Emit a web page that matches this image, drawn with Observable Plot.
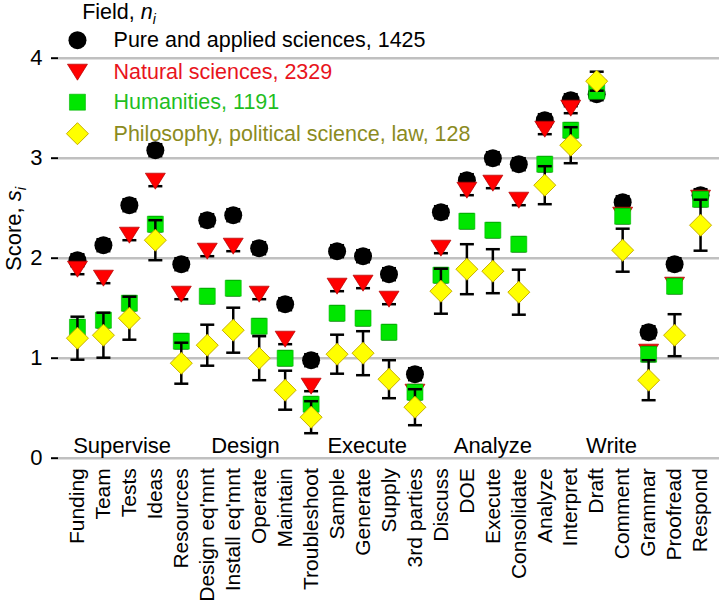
<!DOCTYPE html>
<html><head><meta charset="utf-8">
<script src="https://cdn.jsdelivr.net/npm/d3@7"></script>
<script src="https://cdn.jsdelivr.net/npm/@observablehq/plot@0.6"></script>
<style>
body{margin:0;background:#fff;}
#chart svg{display:block;background:#fff;}
</style>
</head><body><div id="chart"></div>
<script>
const categories = ["Funding","Team","Tests","Ideas","Resources","Design eq'mnt","Install eq'mnt","Operate","Maintain","Troubleshoot","Sample","Generate","Supply","3rd parties","Discuss","DOE","Execute","Consolidate","Analyze","Interpret","Draft","Comment","Grammar","Proofread","Respond"];
const groupLabels = ["Supervise","Design","Execute","Analyze","Write"];
const groupCenters = [1.72, 6.47, 11.16, 16.0, 20.57];
const pure       = [1.98,2.13,2.53,3.08,1.94,2.38,2.43,2.10,1.54,0.98,2.07,2.02,1.84,0.84,2.46,2.78,3.00,2.94,3.38,3.58,3.64,2.56,1.26,1.94,2.63];
const natural    = [1.89,1.80,2.23,2.77,1.64,2.07,2.12,1.64,1.19,0.72,1.72,1.75,1.59,0.66,2.10,2.68,2.75,2.58,3.29,3.50,3.70,2.43,1.06,1.73,2.60];
const humanities = [1.31,1.38,1.55,2.34,1.17,1.62,1.70,1.32,1.00,0.54,1.45,1.40,1.26,0.66,1.83,2.37,2.28,2.14,2.94,3.28,3.67,2.42,1.04,1.72,2.59];
const philosophy = [1.20,1.23,1.40,2.18,0.95,1.13,1.28,1.00,0.68,0.41,1.04,1.05,0.79,0.51,1.67,1.89,1.87,1.66,2.73,3.13,3.77,2.08,0.78,1.23,2.33];
const philosophyErr = [0.215,0.225,0.215,0.20,0.205,0.205,0.225,0.22,0.195,0.16,0.195,0.22,0.19,0.18,0.225,0.25,0.22,0.225,0.19,0.18,0.095,0.215,0.20,0.21,0.255];
const pureErr = 0.06, naturalErr = 0.05, humanitiesErr = 0.07;
const fieldNames = ["Pure and applied sciences, 1425","Natural sciences, 2329","Humanities, 1191","Philosophy, political science, law, 128"];
const yTicks = [0,1,2,3,4];

const FONT = "'Liberation Sans', Arial, Helvetica, sans-serif";
const k = size => Math.sqrt(size / Math.PI);
const symCircle = {draw(c, s){const r=k(s); c.moveTo(r,0); c.arc(0,0,r,0,2*Math.PI); c.closePath();}};
const symSquare = {draw(c, s){const r=k(s); c.rect(-r,-r,2*r,2*r);}};
const symTriDown = {draw(c, s){const r=k(s), w=r*1.25; c.moveTo(-w,-r); c.lineTo(w,-r); c.lineTo(0,r); c.closePath();}};
const symDiamond = {draw(c, s){const r=k(s); c.moveTo(0,-r); c.lineTo(r,0); c.lineTo(0,r); c.lineTo(-r,0); c.closePath();}};
const symCap = {draw(c, s){const r=k(s); c.moveTo(-r,0); c.lineTo(r,0);}};

const series = [
  {values: pure, err: () => pureErr, symbol: symCircle, r: 9, fill: "#000000", stroke: "none", sw: 0, text: "#000000"},
  {values: natural, err: () => naturalErr, symbol: symTriDown, r: 8, fill: "#ff0000", stroke: "#b00000", sw: 0.7, text: "#e8141c"},
  {values: humanities, err: () => humanitiesErr, symbol: symSquare, r: 8, fill: "#00e600", stroke: "#00b400", sw: 0.6, text: "#1fbe1f"},
  {values: philosophy, err: i => philosophyErr[i], symbol: symDiamond, r: 11, fill: "#ffff00", stroke: "#c8b000", sw: 1, text: "#8b8b1e"}
];
const legendY = [4.18, 3.86, 3.56, 3.245];

const marks = [Plot.ruleY(yTicks, {stroke: "#c0c0c0", strokeWidth: 2.5})];
series.forEach(s => {
  const rows = categories.map((c, i) => ({i, v: s.values[i], e: s.err(i)}));
  marks.push(Plot.ruleX(rows, {x: "i", y1: d => d.v - d.e, y2: d => d.v + d.e, stroke: "#000", strokeWidth: 2.5}));
  marks.push(Plot.dot(rows, {x: "i", y: d => d.v - d.e, symbol: symCap, r: 7, fill: "none", stroke: "#000", strokeWidth: 2.5}));
  marks.push(Plot.dot(rows, {x: "i", y: d => d.v + d.e, symbol: symCap, r: 7, fill: "none", stroke: "#000", strokeWidth: 2.5}));
  marks.push(Plot.dot(rows, {x: "i", y: "v", symbol: s.symbol, r: s.r, fill: s.fill, stroke: s.stroke, strokeWidth: s.sw}));
});
// legend inside plot
series.forEach((s, j) => {
  const row = [{name: fieldNames[j]}];
  marks.push(Plot.dot(row, {x: () => 0, y: () => legendY[j], symbol: s.symbol, r: s.r, fill: s.fill, stroke: s.stroke, strokeWidth: s.sw}));
  marks.push(Plot.text(row, {x: () => 1.39, y: () => legendY[j], text: "name", textAnchor: "start", lineAnchor: "middle", fill: s.text, fontSize: 21.5}));
});
// group labels
marks.push(Plot.text(groupLabels, {x: (d, i) => groupCenters[i], y: () => 0.123, text: d => d, lineAnchor: "middle", fill: "#000", fontSize: 22}));
marks.push(Plot.axisY({ticks: yTicks, tickFormat: d => String(d), tickSize: 7, tickPadding: 9, strokeWidth: 2, fontSize: 22, label: null}));
marks.push(Plot.axisX({ticks: categories.map((c, i) => i), tickFormat: i => categories[i], tickRotate: -90, tickSize: 0, tickPadding: 10, fontSize: 21, label: null}));

const chart = Plot.plot({
  width: 721, height: 608,
  marginLeft: 58, marginRight: 2, marginTop: 7.7, marginBottom: 150.3,
  style: {fontFamily: FONT, fontSize: "21px", background: "#fff", color: "#000"},
  x: {domain: [-0.73, 24.73]},
  y: {domain: [0, 4.5]},
  marks
});

const xs = chart.scale("x"), ys = chart.scale("y");
const svg = d3.select(chart);
const title = svg.append("text").attr("x", xs.apply(1.62)).attr("y", ys.apply(4.459)).attr("dy", "0.32em")
  .attr("font-size", 21.5).attr("font-family", FONT).attr("fill", "#000");
title.append("tspan").text("Field, ");
title.append("tspan").attr("font-style", "italic").text("n");
title.append("tspan").attr("font-style", "italic").attr("font-size", 14).attr("dy", "0.35em").text("i");

const ylab = svg.append("text").attr("transform", "translate(21,229) rotate(-90)").attr("text-anchor", "middle")
  .attr("font-size", 22).attr("font-family", FONT).attr("fill", "#000");
ylab.append("tspan").text("Score, ");
ylab.append("tspan").attr("font-style", "italic").text("s");
ylab.append("tspan").attr("font-style", "italic").attr("font-size", 15).attr("dy", "0.35em").text("i");

document.getElementById("chart").appendChild(chart);
</script>
</body></html>
